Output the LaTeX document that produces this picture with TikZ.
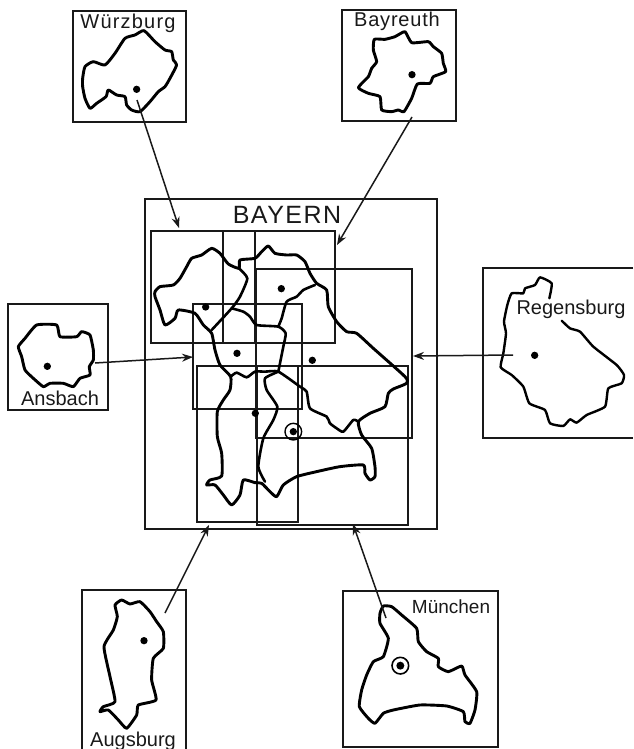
\documentclass[tikz,border=0pt]{standalone}
\usepackage{fontspec}
\setmainfont{Liberation Sans}
\usetikzlibrary{arrows.meta}
\tikzset{
  frame/.style={line width=1.4pt,black!90},
  outl/.style={line width=2.9pt,line join=round,line cap=round,black},
  inner/.style={line width=2.6pt,line join=round,line cap=round,black},
  conn/.style={line width=1.5pt,black!90},
  arr/.style={conn,-{Stealth[length=11pt,width=8pt]}},
  lab/.style={inner sep=0pt,font=\fontsize{20}{22}\selectfont,text=black!90},
  dot/.style={fill=black,draw=none},
  zoomed/.style={x=0.3333pt,y=-0.3333pt}
}
\begin{document}
\begin{tikzpicture}[x=1pt,y=-1pt]
\useasboundingbox (0,0) rectangle (633,749);
% --- central map sheets
\draw[frame] (145,199) rectangle (437,529);
\draw[frame] (151,231) rectangle (335,343);
\draw[frame] (223,231) rectangle (255,343);
\draw[frame] (256,269) rectangle (412,438);
\draw[frame] (193,304) rectangle (302,409);
\draw[frame] (197,366) rectangle (298,522);
\draw[frame] (257,366) rectangle (408,525);
\node[lab,font=\fontsize{25}{27}\selectfont\addfontfeature{LetterSpace=6}] (bayern) at (287,215) {BAYERN};
\begin{scope}[shift={(140,190)},zoomed]
\draw[outl] plot[smooth cycle,tension=0.35] coordinates {(45,305)(60,290)(100,285)(120,265)(140,230)(155,205)(185,195)(215,175)(240,190)(265,222)(297,235)(300,210)(345,205)(365,185)(385,168)(405,190)(440,195)(470,195)(495,215)(510,250)(530,280)(560,300)(565,350)(590,395)(620,425)(650,430)(700,475)(795,560)(800,580)(760,597)(745,610)(735,650)(690,670)(655,695)(665,735)(695,775)(705,830)(705,860)(690,870)(675,850)(670,825)(600,830)(530,845)(470,860)(430,885)(410,920)(390,905)(365,880)(345,878)(310,870)(300,915)(275,945)(250,915)(225,885)(200,885)(210,870)(245,858)(245,790)(232,740)(232,665)(250,630)(270,600)(272,560)(240,525)(225,480)(215,430)(190,405)(165,370)(115,360)(105,385)(75,405)(60,360)(45,320)};
\draw[inner] plot[smooth,tension=0.35] coordinates {(297,235)(322,265)(300,320)(275,355)(215,420)};
\draw[inner] plot[smooth,tension=0.35] coordinates {(275,355)(310,365)(330,380)(350,405)(415,410)(437,430)(430,470)(415,545)};
\draw[inner] plot[smooth,tension=0.35] coordinates {(525,285)(490,300)(470,320)(440,335)(425,385)(415,410)};
\draw[inner] plot[smooth,tension=0.35] coordinates {(272,560)(290,548)(320,562)(345,545)(375,545)(415,545)(480,590)(500,605)(510,655)(560,680)(570,700)(590,715)(610,725)(640,690)(655,695)};
\draw[inner] plot[smooth,tension=0.35] coordinates {(415,545)(375,565)(380,600)(412,650)(400,690)(370,745)(355,830)(375,875)};
\fill[dot] (197,351) circle (11);
\fill[dot] (424,296) circle (11);
\fill[dot] (291,490) circle (11);
\fill[dot] (517,511) circle (11);
\fill[dot] (346,670) circle (11);
\fill[dot] (460,725) circle (11);
\draw[line width=1.4pt] (460,725) circle (25);
\end{scope}
% --- Würzburg
\draw[frame] (73,11) rectangle (186,122);
\node[lab,font=\fontsize{20}{22}\selectfont\addfontfeature{LetterSpace=6}] (wue) at (128,23) {Würzburg};
\begin{scope}[zoomed]
\draw[outl] plot[smooth cycle,tension=0.35] coordinates {(248,235)(255,200)(280,185)(315,195)(345,160)(375,115)(405,105)(432,92)(465,125)(495,150)(515,155)(520,180)(530,195)(510,235)(495,260)(475,275)(450,305)(420,335)(395,330)(380,315)(375,290)(350,285)(325,270)(318,290)(290,310)(270,325)(255,295)(248,260)};
\fill[dot] (410,268) circle (11);
\end{scope}
% --- Bayreuth
\draw[frame] (342,10) rectangle (456,121);
\node[lab,font=\fontsize{20}{22}\selectfont\addfontfeature{LetterSpace=4}] (bay) at (397,21) {Bayreuth};
\begin{scope}[shift={(330,0)},zoomed]
\draw[outl] plot[smooth cycle,tension=0.3] coordinates {(133,118)(165,118)(195,110)(225,95)(245,128)(295,125)(310,140)(335,160)(340,190)(347,215)(310,230)(300,250)(262,252)(245,295)(222,335)(205,330)(185,335)(155,330)(150,290)(115,280)(85,263)(115,230)(125,205)(140,185)(130,150)};
\fill[dot] (246,224) circle (11);
\end{scope}
% --- Regensburg (cut by the right edge)
\draw[frame] (633,268) -- (483,268) -- (483,438) -- (633,438);
\node[lab] (reg) at (571,309) {Regensburg};
\begin{scope}[shift={(470,250)},zoomed]
\draw[outl,line width=2.4pt] plot[smooth,tension=0.3] coordinates {(238,145)(245,100)(210,82)(195,105)(165,115)(160,130)(125,130)(112,165)(102,215)(108,250)(100,310)(92,352)(125,375)(160,410)(178,460)(225,480)(240,520)(280,528)(300,508)(320,518)(350,495)(405,470)(415,415)(455,400)(462,375)(440,345)(370,290)(330,245)(300,235)(275,212)};
\fill[dot] (194,316) circle (11);
\end{scope}
% --- Ansbach
\draw[frame] (8,304) rectangle (108,410);
\node[lab] (ans) at (60,398) {Ansbach};
\begin{scope}[shift={(0,295)},zoomed]
\draw[outl] plot[smooth cycle,tension=0.3] coordinates {(55,155)(75,130)(110,90)(170,90)(180,125)(230,125)(245,110)(270,120)(280,165)(280,195)(268,215)(270,240)(240,250)(220,275)(190,265)(150,265)(130,275)(100,250)(75,225)(65,185)};
\fill[dot] (142,214) circle (11);
\end{scope}
% --- Augsburg (cut by the bottom edge)
\draw[frame] (82,749) -- (82,590) -- (186,590) -- (186,749);
\node[lab] (aug) at (133,741) {Augsburg};
\begin{scope}[shift={(70,580)},zoomed]
\draw[outl] plot[smooth cycle,tension=0.3] coordinates {(135,75)(155,60)(180,72)(210,65)(240,95)(260,125)(280,155)(280,205)(250,235)(245,300)(258,360)(205,375)(200,405)(170,445)(145,420)(115,390)(90,395)(100,380)(135,365)(120,290)(102,200)(130,150)(142,110)};
\fill[dot] (222,182) circle (11);
\end{scope}
% --- München
\draw[frame] (343,591) rectangle (498,747);
\node[lab,font=\fontsize{19}{21}\selectfont] (mue) at (451,607) {München};
\begin{scope}[shift={(330,580)},zoomed]
\draw[outl] plot[smooth cycle,tension=0.3] coordinates {(150,100)(160,78)(185,80)(215,105)(260,145)(265,185)(290,215)(325,235)(325,260)(355,275)(395,258)(405,285)(440,335)(435,390)(420,430)(405,425)(400,395)(350,378)(270,375)(190,390)(160,400)(135,430)(115,415)(88,380)(95,330)(110,285)(130,245)(160,230)(175,175)(150,130)};
\fill[dot] (211,257) circle (12);
\draw[line width=1.6pt] (211,257) circle (25);
\end{scope}
% --- connectors
\coordinate (wa) at (137,100); \coordinate (wb) at (179,228);
\coordinate (ba) at (412,117); \coordinate (bb) at (337,245);
\coordinate (ra) at (513,355); \coordinate (rb) at (413,356);
\coordinate (aa) at (95,363);  \coordinate (ab) at (193,357);
\coordinate (ga) at (165,613); \coordinate (gb) at (209,525);
\coordinate (ma) at (386,618); \coordinate (mb) at (353,524);
\draw[arr] (wa) -- (wb);
\draw[arr] (ba) -- (bb);
\draw[arr] (ra) -- (rb);
\draw[arr] (aa) -- (ab);
\draw[arr] (ga) -- (gb);
\draw[arr] (ma) -- (mb);
\end{tikzpicture}
\end{document}
